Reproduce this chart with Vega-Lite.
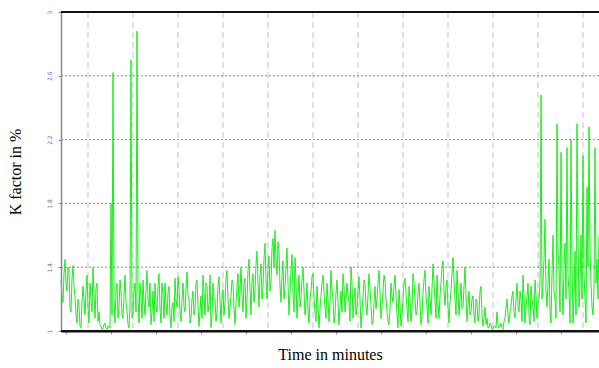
{
  "$schema": "https://vega.github.io/schema/vega-lite/v6.json",
  "width": 538,
  "height": 319,
  "autosize": {"type": "none"},
  "padding": {"left": 61, "top": 12, "right": 0, "bottom": 37},
  "background": "white",
  "config": {"view": {"stroke": null}},
  "datasets": {
    "series": [
      {"t":0,"k":1.32},{"t":1,"k":1.22},{"t":2,"k":1.18},{"t":3,"k":1.36},{"t":4,"k":1.45},{"t":5,"k":1.3},{"t":6,"k":1.25},{"t":7,"k":1.4},{"t":8,"k":1.38},{"t":9,"k":1.15},
      {"t":10,"k":1.12},{"t":11,"k":1.33},{"t":12,"k":1.41},{"t":13,"k":1.28},{"t":14,"k":1.22},{"t":15,"k":1.1},{"t":16,"k":1.05},{"t":17,"k":1.2},{"t":18,"k":1.15},{"t":19,"k":1.03},
      {"t":20,"k":1.02},{"t":21,"k":1.18},{"t":22,"k":1.28},{"t":23,"k":1.2},{"t":24,"k":1.1},{"t":25,"k":1.25},{"t":26,"k":1.35},{"t":27,"k":1.15},{"t":28,"k":1.05},{"t":29,"k":1.3},
      {"t":30,"k":1.2},{"t":31,"k":1.12},{"t":32,"k":1.4},{"t":33,"k":1.22},{"t":34,"k":1.08},{"t":35,"k":1.27},{"t":36,"k":1.3},{"t":37,"k":1.06},{"t":38,"k":1.12},{"t":39,"k":1.04},
      {"t":40,"k":1.03},{"t":41,"k":1.01},{"t":42,"k":1.02},{"t":43,"k":1.04},{"t":44,"k":1.05},{"t":45,"k":1.02},{"t":46,"k":1.01},{"t":47,"k":1.03},{"t":48,"k":1.03},{"t":49,"k":1.02},
      {"t":50,"k":1.8},{"t":51,"k":1.1},{"t":52,"k":2.62},{"t":53,"k":1.2},{"t":54,"k":1.05},{"t":55,"k":1.25},{"t":56,"k":1.3},{"t":57,"k":1.08},{"t":58,"k":1.15},{"t":59,"k":1.32},
      {"t":60,"k":1.25},{"t":61,"k":1.1},{"t":62,"k":1.08},{"t":63,"k":1.22},{"t":64,"k":1.35},{"t":65,"k":1.18},{"t":66,"k":1.12},{"t":67,"k":1.04},{"t":68,"k":1.02},{"t":69,"k":1.15},
      {"t":70,"k":2.7},{"t":71,"k":1.08},{"t":72,"k":1.1},{"t":73,"k":1.25},{"t":74,"k":1.3},{"t":75,"k":1.12},{"t":76,"k":2.88},{"t":77,"k":1.2},{"t":78,"k":1.05},{"t":79,"k":1.3},
      {"t":80,"k":1.2},{"t":81,"k":1.08},{"t":82,"k":1.32},{"t":83,"k":1.18},{"t":84,"k":1.1},{"t":85,"k":1.26},{"t":86,"k":1.38},{"t":87,"k":1.2},{"t":88,"k":1.15},{"t":89,"k":1.3},
      {"t":90,"k":1.04},{"t":91,"k":1.12},{"t":92,"k":1.25},{"t":93,"k":1.06},{"t":94,"k":1.3},{"t":95,"k":1.16},{"t":96,"k":1.12},{"t":97,"k":1.28},{"t":98,"k":1.36},{"t":99,"k":1.14},
      {"t":100,"k":1.05},{"t":101,"k":1.3},{"t":102,"k":1.22},{"t":103,"k":1.08},{"t":104,"k":1.3},{"t":105,"k":1.17},{"t":106,"k":1.1},{"t":107,"k":1.24},{"t":108,"k":1.28},{"t":109,"k":1.1},
      {"t":110,"k":1.02},{"t":111,"k":1.15},{"t":112,"k":1.18},{"t":113,"k":1.06},{"t":114,"k":1.33},{"t":115,"k":1.2},{"t":116,"k":1.15},{"t":117,"k":1.34},{"t":118,"k":1.27},{"t":119,"k":1.12},
      {"t":120,"k":1.06},{"t":121,"k":1.2},{"t":122,"k":1.3},{"t":123,"k":1.15},{"t":124,"k":1.12},{"t":125,"k":1.27},{"t":126,"k":1.37},{"t":127,"k":1.22},{"t":128,"k":1.2},{"t":129,"k":1.05},
      {"t":130,"k":1.08},{"t":131,"k":1.2},{"t":132,"k":1.25},{"t":133,"k":1.1},{"t":134,"k":1.14},{"t":135,"k":1.3},{"t":136,"k":1.32},{"t":137,"k":1.16},{"t":138,"k":1.03},{"t":139,"k":1.12},
      {"t":140,"k":1.22},{"t":141,"k":1.08},{"t":142,"k":1.35},{"t":143,"k":1.24},{"t":144,"k":1.1},{"t":145,"k":1.3},{"t":146,"k":1.28},{"t":147,"k":1.12},{"t":148,"k":1.16},{"t":149,"k":1.35},
      {"t":150,"k":1.02},{"t":151,"k":1.1},{"t":152,"k":1.3},{"t":153,"k":1.2},{"t":154,"k":1.2},{"t":155,"k":1.06},{"t":156,"k":1.12},{"t":157,"k":1.28},{"t":158,"k":1.34},{"t":159,"k":1.18},
      {"t":160,"k":1.05},{"t":161,"k":1.22},{"t":162,"k":1.26},{"t":163,"k":1.1},{"t":164,"k":1.18},{"t":165,"k":1.33},{"t":166,"k":1.38},{"t":167,"k":1.2},{"t":168,"k":1.08},{"t":169,"k":1.15},
      {"t":170,"k":1.22},{"t":171,"k":1.32},{"t":172,"k":1.3},{"t":173,"k":1.14},{"t":174,"k":1.04},{"t":175,"k":1.18},{"t":176,"k":1.28},{"t":177,"k":1.36},{"t":178,"k":1.15},{"t":179,"k":1.24},
      {"t":180,"k":1.4},{"t":181,"k":1.22},{"t":182,"k":1.12},{"t":183,"k":1.3},{"t":184,"k":1.33},{"t":185,"k":1.08},{"t":186,"k":1.2},{"t":187,"k":1.38},{"t":188,"k":1.45},{"t":189,"k":1.26},
      {"t":190,"k":1.1},{"t":191,"k":1.3},{"t":192,"k":1.36},{"t":193,"k":1.18},{"t":194,"k":1.25},{"t":195,"k":1.42},{"t":196,"k":1.5},{"t":197,"k":1.3},{"t":198,"k":1.15},{"t":199,"k":1.35},
      {"t":200,"k":1.42},{"t":201,"k":1.2},{"t":202,"k":1.28},{"t":203,"k":1.45},{"t":204,"k":1.55},{"t":205,"k":1.32},{"t":206,"k":1.2},{"t":207,"k":1.4},{"t":208,"k":1.47},{"t":209,"k":1.25},
      {"t":210,"k":1.3},{"t":211,"k":1.52},{"t":212,"k":1.58},{"t":213,"k":1.4},{"t":214,"k":1.63},{"t":215,"k":1.45},{"t":216,"k":1.35},{"t":217,"k":1.56},{"t":218,"k":1.5},{"t":219,"k":1.28},
      {"t":220,"k":1.18},{"t":221,"k":1.35},{"t":222,"k":1.44},{"t":223,"k":1.2},{"t":224,"k":1.28},{"t":225,"k":1.4},{"t":226,"k":1.52},{"t":227,"k":1.3},{"t":228,"k":1.1},{"t":229,"k":1.24},
      {"t":230,"k":1.38},{"t":231,"k":1.48},{"t":232,"k":1.25},{"t":233,"k":1.12},{"t":234,"k":1.46},{"t":235,"k":1.3},{"t":236,"k":1.08},{"t":237,"k":1.22},{"t":238,"k":1.35},{"t":239,"k":1.15},
      {"t":240,"k":1.2},{"t":241,"k":1.32},{"t":242,"k":1.4},{"t":243,"k":1.25},{"t":244,"k":1.1},{"t":245,"k":1.18},{"t":246,"k":1.3},{"t":247,"k":1.12},{"t":248,"k":1.05},{"t":249,"k":1.2},
      {"t":250,"k":1.25},{"t":251,"k":1.34},{"t":252,"k":1.36},{"t":253,"k":1.2},{"t":254,"k":1.12},{"t":255,"k":1.06},{"t":256,"k":1.28},{"t":257,"k":1.15},{"t":258,"k":1.02},{"t":259,"k":1.14},
      {"t":260,"k":1.22},{"t":261,"k":1.3},{"t":262,"k":1.35},{"t":263,"k":1.24},{"t":264,"k":1.15},{"t":265,"k":1.08},{"t":266,"k":1.3},{"t":267,"k":1.2},{"t":268,"k":1.06},{"t":269,"k":1.18},
      {"t":270,"k":1.38},{"t":271,"k":1.26},{"t":272,"k":1.2},{"t":273,"k":1.05},{"t":274,"k":1.1},{"t":275,"k":1.24},{"t":276,"k":1.32},{"t":277,"k":1.18},{"t":278,"k":1.04},{"t":279,"k":1.15},
      {"t":280,"k":1.25},{"t":281,"k":1.12},{"t":282,"k":1.36},{"t":283,"k":1.28},{"t":284,"k":1.12},{"t":285,"k":1.2},{"t":286,"k":1.3},{"t":287,"k":1.22},{"t":288,"k":1.18},{"t":289,"k":1.06},
      {"t":290,"k":1.4},{"t":291,"k":1.3},{"t":292,"k":1.08},{"t":293,"k":1.2},{"t":294,"k":1.27},{"t":295,"k":1.1},{"t":296,"k":1.15},{"t":297,"k":1.25},{"t":298,"k":1.34},{"t":299,"k":1.2},
      {"t":300,"k":1.02},{"t":301,"k":1.12},{"t":302,"k":1.22},{"t":303,"k":1.32},{"t":304,"k":1.3},{"t":305,"k":1.16},{"t":306,"k":1.1},{"t":307,"k":1.22},{"t":308,"k":1.36},{"t":309,"k":1.26},
      {"t":310,"k":1.16},{"t":311,"k":1.04},{"t":312,"k":1.05},{"t":313,"k":1.18},{"t":314,"k":1.28},{"t":315,"k":1.14},{"t":316,"k":1.2},{"t":317,"k":1.3},{"t":318,"k":1.38},{"t":319,"k":1.24},
      {"t":320,"k":1.08},{"t":321,"k":1.16},{"t":322,"k":1.25},{"t":323,"k":1.35},{"t":324,"k":1.32},{"t":325,"k":1.2},{"t":326,"k":1.12},{"t":327,"k":1.06},{"t":328,"k":1.04},{"t":329,"k":1.14},
      {"t":330,"k":1.3},{"t":331,"k":1.22},{"t":332,"k":1.18},{"t":333,"k":1.28},{"t":334,"k":1.35},{"t":335,"k":1.22},{"t":336,"k":1.1},{"t":337,"k":1.02},{"t":338,"k":1.26},{"t":339,"k":1.16},
      {"t":340,"k":1.03},{"t":341,"k":1.1},{"t":342,"k":1.2},{"t":343,"k":1.3},{"t":344,"k":1.33},{"t":345,"k":1.24},{"t":346,"k":1.14},{"t":347,"k":1.06},{"t":348,"k":1.28},{"t":349,"k":1.2},
      {"t":350,"k":1.06},{"t":351,"k":1.14},{"t":352,"k":1.36},{"t":353,"k":1.3},{"t":354,"k":1.2},{"t":355,"k":1.1},{"t":356,"k":1.12},{"t":357,"k":1.24},{"t":358,"k":1.3},{"t":359,"k":1.18},
      {"t":360,"k":1.04},{"t":361,"k":1.1},{"t":362,"k":1.24},{"t":363,"k":1.32},{"t":364,"k":1.38},{"t":365,"k":1.22},{"t":366,"k":1.15},{"t":367,"k":1.05},{"t":368,"k":1.28},{"t":369,"k":1.2},
      {"t":370,"k":1.1},{"t":371,"k":1.26},{"t":372,"k":1.42},{"t":373,"k":1.3},{"t":374,"k":1.2},{"t":375,"k":1.08},{"t":376,"k":1.35},{"t":377,"k":1.18},{"t":378,"k":1.08},{"t":379,"k":1.22},
      {"t":380,"k":1.3},{"t":381,"k":1.4},{"t":382,"k":1.44},{"t":383,"k":1.25},{"t":384,"k":1.16},{"t":385,"k":1.28},{"t":386,"k":1.32},{"t":387,"k":1.15},{"t":388,"k":1.05},{"t":389,"k":1.18},
      {"t":390,"k":1.25},{"t":391,"k":1.36},{"t":392,"k":1.46},{"t":393,"k":1.32},{"t":394,"k":1.2},{"t":395,"k":1.1},{"t":396,"k":1.38},{"t":397,"k":1.24},{"t":398,"k":1.1},{"t":399,"k":1.2},
      {"t":400,"k":1.3},{"t":401,"k":1.14},{"t":402,"k":1.15},{"t":403,"k":1.28},{"t":404,"k":1.4},{"t":405,"k":1.22},{"t":406,"k":1.06},{"t":407,"k":1.16},{"t":408,"k":1.25},{"t":409,"k":1.1},
      {"t":410,"k":1.12},{"t":411,"k":1.2},{"t":412,"k":1.22},{"t":413,"k":1.1},{"t":414,"k":1.05},{"t":415,"k":1.2},{"t":416,"k":1.18},{"t":417,"k":1.06},{"t":418,"k":1.1},{"t":419,"k":1.25},
      {"t":420,"k":1.28},{"t":421,"k":1.1},{"t":422,"k":1.03},{"t":423,"k":1.08},{"t":424,"k":1.15},{"t":425,"k":1.04},{"t":426,"k":1.08},{"t":427,"k":1.02},{"t":428,"k":1.02},{"t":429,"k":1.05},
      {"t":430,"k":1.04},{"t":431,"k":1.01},{"t":432,"k":1.01},{"t":433,"k":1.03},{"t":434,"k":1.03},{"t":435,"k":1.02},{"t":436,"k":1.12},{"t":437,"k":1.04},{"t":438,"k":1.02},{"t":439,"k":1.03},
      {"t":440,"k":1.05},{"t":441,"k":1.02},{"t":442,"k":1.01},{"t":443,"k":1.06},{"t":444,"k":1.08},{"t":445,"k":1.15},{"t":446,"k":1.2},{"t":447,"k":1.1},{"t":448,"k":1.05},{"t":449,"k":1.12},
      {"t":450,"k":1.15},{"t":451,"k":1.22},{"t":452,"k":1.25},{"t":453,"k":1.12},{"t":454,"k":1.08},{"t":455,"k":1.2},{"t":456,"k":1.3},{"t":457,"k":1.16},{"t":458,"k":1.12},{"t":459,"k":1.25},
      {"t":460,"k":1.2},{"t":461,"k":1.06},{"t":462,"k":1.35},{"t":463,"k":1.22},{"t":464,"k":1.05},{"t":465,"k":1.15},{"t":466,"k":1.22},{"t":467,"k":1.3},{"t":468,"k":1.1},{"t":469,"k":1.04},
      {"t":470,"k":1.28},{"t":471,"k":1.2},{"t":472,"k":1.15},{"t":473,"k":1.06},{"t":474,"k":1.32},{"t":475,"k":1.22},{"t":476,"k":1.08},{"t":477,"k":1.18},{"t":478,"k":1.2},{"t":479,"k":1.3},
      {"t":480,"k":2.48},{"t":481,"k":1.2},{"t":482,"k":1.3},{"t":483,"k":1.45},{"t":484,"k":1.7},{"t":485,"k":1.25},{"t":486,"k":1.15},{"t":487,"k":1.3},{"t":488,"k":1.45},{"t":489,"k":1.12},
      {"t":490,"k":1.05},{"t":491,"k":1.35},{"t":492,"k":1.6},{"t":493,"k":1.25},{"t":494,"k":1.2},{"t":495,"k":1.08},{"t":496,"k":2.3},{"t":497,"k":1.5},{"t":498,"k":1.4},{"t":499,"k":1.12},
      {"t":500,"k":2.12},{"t":501,"k":1.3},{"t":502,"k":1.1},{"t":503,"k":1.4},{"t":504,"k":1.55},{"t":505,"k":1.2},{"t":506,"k":2.15},{"t":507,"k":1.35},{"t":508,"k":1.25},{"t":509,"k":1.05},
      {"t":510,"k":2.2},{"t":511,"k":1.45},{"t":512,"k":1.05},{"t":513,"k":1.2},{"t":514,"k":1.5},{"t":515,"k":1.1},{"t":516,"k":2.3},{"t":517,"k":1.6},{"t":518,"k":1.15},{"t":519,"k":1.3},
      {"t":520,"k":1.6},{"t":521,"k":1.2},{"t":522,"k":2.1},{"t":523,"k":1.35},{"t":524,"k":1.2},{"t":525,"k":1.05},{"t":526,"k":1.9},{"t":527,"k":1.4},{"t":528,"k":2.28},{"t":529,"k":1.5},
      {"t":530,"k":1.3},{"t":531,"k":1.15},{"t":532,"k":1.1},{"t":533,"k":1.25},{"t":534,"k":2.15},{"t":535,"k":1.3},{"t":536,"k":1.45},{"t":537,"k":1.2},{"t":538,"k":1.6}
    ],
    "hgrid": [{"g":1.4},{"g":1.8},{"g":2.2},{"g":2.6}],
    "vgrid": [{"v":27},{"v":72},{"v":117},{"v":162},{"v":207},{"v":252},{"v":297},{"v":342},{"v":387},{"v":432},{"v":477},{"v":522}],
    "frame": [{"b":1},{"b":3}]
  },
  "layer": [
    {
      "data": {"name": "vgrid"},
      "mark": {"type": "rule", "color": "#c4c4c4", "strokeDash": [6, 4], "strokeWidth": 1},
      "encoding": {"x": {"field": "v", "type": "quantitative", "scale": {"domain": [0, 538], "nice": false, "zero": false}}}
    },
    {
      "data": {"name": "hgrid"},
      "mark": {"type": "rule", "color": "#8a8a8a", "strokeDash": [2, 2], "strokeWidth": 1},
      "encoding": {"y": {"field": "g", "type": "quantitative", "scale": {"domain": [1, 3], "nice": false, "zero": false}}}
    },
    {
      "data": {"name": "series"},
      "mark": {"type": "line", "color": "#1aee1a", "strokeWidth": 1, "interpolate": "linear"},
      "encoding": {
        "x": {
          "field": "t", "type": "quantitative",
          "scale": {"domain": [0, 538], "nice": false, "zero": false},
          "axis": {
            "title": "Time in minutes",
            "titleFont": "Liberation Serif", "titleFontSize": 16, "titleFontWeight": "normal", "titleColor": "black",
            "titlePadding": 12,
            "labels": false, "grid": false,
            "values": [4.5,15.75,27,38.25,49.5,60.75,72,83.25,94.5,105.75,117,128.25,139.5,150.75,162,173.25,184.5,195.75,207,218.25,229.5,240.75,252,263.25,274.5,285.75,297,308.25,319.5,330.75,342,353.25,364.5,375.75,387,398.25,409.5,420.75,432,443.25,454.5,465.75,477,488.25,499.5,510.75,522,533.25],
            "tickSize": 3, "tickColor": "#999999",
            "domainColor": "#111111", "domainWidth": 2
          }
        },
        "y": {
          "field": "k", "type": "quantitative",
          "scale": {"domain": [1, 3], "nice": false, "zero": false},
          "axis": {
            "title": "K factor in %",
            "titleFont": "Liberation Serif", "titleFontSize": 16, "titleFontWeight": "normal", "titleColor": "black",
            "titlePadding": 23,
            "grid": false,
            "values": [1, 1.1, 1.2, 1.3, 1.4, 1.5, 1.6, 1.7, 1.8, 1.9, 2, 2.1, 2.2, 2.3, 2.4, 2.5, 2.6, 2.7, 2.8, 2.9, 3],
            "labelExpr": "datum.value == 1 ? '1' : datum.value == 3 ? '3' : (indexof(['1.4','1.8','2.2','2.6'], datum.label) >= 0 ? datum.label : '')",
            "labelOverlap": false, "labelFlush": false, "labelBound": false,
            "labelAngle": -90, "labelFontSize": 6, "labelColor": "#6a6a9a", "labelFont": "DejaVu Sans",
            "labelPadding": 6, "labelAlign": "center", "labelBaseline": "bottom",
            "tickSize": 3, "tickColor": "#888888",
            "domainColor": "#888888", "domainWidth": 1.5
          }
        }
      }
    },
    {
      "data": {"name": "frame"},
      "mark": {"type": "rule", "color": "#111111", "strokeWidth": 2},
      "encoding": {"y": {"field": "b", "type": "quantitative"}}
    }
  ]
}
